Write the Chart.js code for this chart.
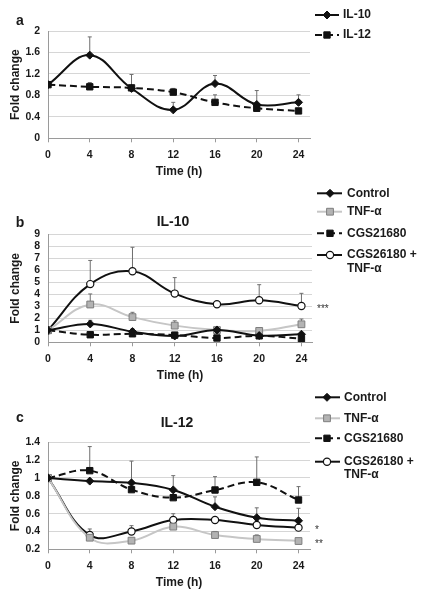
<!DOCTYPE html>
<html>
<head>
<meta charset="utf-8">
<script src="https://cdn.jsdelivr.net/npm/chart.js@4.4.0/dist/chart.umd.min.js"></script>
<style>
  body { margin: 0; background: #fff; }
  #lienzo { position: relative; width: 431px; height: 599px; overflow: hidden; background: #fff; }
  canvas { position: absolute; left: 0; }
</style>
</head>
<body>
<div id="lienzo">
  <canvas id="chartA" width="431" height="185" style="top:0px"></canvas>
  <canvas id="chartB" width="431" height="215" style="top:180px"></canvas>
  <canvas id="chartC" width="431" height="209" style="top:390px"></canvas>
</div>
<script>
// Eje X comun (horas)
const horas = [0, 4, 8, 12, 16, 20, 24];

// Ticks de cada panel
const ticksA = [0, 0.4, 0.8, 1.2, 1.6, 2];
const ticksB = [0, 1, 2, 3, 4, 5, 6, 7, 8, 9];
const ticksC = [0.2, 0.4, 0.6, 0.8, 1, 1.2, 1.4];

// Panel a
const il10A    = [1, 1.55, 0.93, 0.53, 1.02, 0.63, 0.67];
const il10AErr = [0, 0.34, 0.26, 0.14, 0.15, 0.26, 0.14];
const il12A    = [1, 0.96, 0.94, 0.86, 0.67, 0.56, 0.51];
const il12AErr = [0, 0.08, 0, 0.07, 0.14, 0, 0];

// Panel b (IL-10)
const controlB    = [1, 1.53, 0.89, 0.53, 1.03, 0.56, 0.67];
const controlBErr = [0, 0.30, 0.22, 0, 0, 0, 0];
const tnfB        = [1, 3.15, 2.1, 1.39, 1.02, 0.95, 1.5];
const tnfBErr     = [0, 0.88, 0.4, 0.4, 0, 0.28, 0.44];
const cgsB        = [1, 0.63, 0.71, 0.6, 0.36, 0.54, 0.3];
const cgsBErr     = [0, 0, 0, 0, 0, 0, 0];
const cgsTnfB     = [1, 4.85, 5.92, 4.06, 3.17, 3.5, 3.03];
const cgsTnfBErr  = [0, 1.97, 2.0, 1.33, 0, 1.3, 1.05];

// Panel c (IL-12)
const controlC    = [1, 0.965, 0.945, 0.866, 0.678, 0.555, 0.52];
const controlCErr = [0, 0, 0, 0.16, 0.11, 0.11, 0.14];
const tnfC        = [1, 0.33, 0.297, 0.454, 0.36, 0.316, 0.293];
const tnfCErr     = [0, 0, 0, 0, 0.04, 0.045, 0];
const cgsC        = [1, 1.082, 0.869, 0.779, 0.865, 0.951, 0.753];
const cgsCErr     = [0, 0.27, 0.32, 0, 0.15, 0.285, 0.15];
const cgsTnfC     = [1, 0.36, 0.40, 0.529, 0.529, 0.473, 0.443];
const cgsTnfCErr  = [0, 0.068, 0.065, 0.07, 0, 0.05, 0];

const leyendaA = ['IL-10', 'IL-12'];
const leyendaBC = ['Control', 'TNF-α', 'CGS21680', 'CGS26180 +\nTNF-α'];

const FUENTE = '"Liberation Sans", Arial, sans-serif';
const TEXTO = '#1a1a1a';

const estilos = {
    diamante: { borderColor: '#111', pointStyle: 'rectRot', pointRadius: 4, pointBackgroundColor: '#111', pointBorderColor: '#111', pointBorderWidth: 1 },
    cuadroGris: { borderColor: '#c6c6c6', pointStyle: 'rect', pointRadius: 4.8, pointBackgroundColor: '#b3b3b3', pointBorderColor: '#7e7e7e', pointBorderWidth: 1 },
    cuadroNegro: { borderColor: '#111', borderDash: [7, 4], pointStyle: 'rect', pointRadius: 4.5, pointBackgroundColor: '#111', pointBorderColor: '#111', pointBorderWidth: 1 },
    circulo: { borderColor: '#111', pointStyle: 'circle', pointRadius: 3.6, pointBackgroundColor: '#fff', pointBorderColor: '#111', pointBorderWidth: 1.2 }
};

function serie(etiqueta, valores, errores, estilo) {
    return Object.assign({
        label: etiqueta,
        data: horas.map((h, i) => ({ x: h, y: valores[i] })),
        errores: errores,
        tension: 0.4,
        borderWidth: 2,
        fill: false
    }, estilo);
}

// Barras de error (solo hacia arriba)
const barrasError = {
    id: 'barrasError',
    beforeDatasetsDraw(chart) {
        const ctx = chart.ctx;
        const ys = chart.scales.y;
        ctx.save();
        ctx.strokeStyle = '#6e6e6e';
        ctx.lineWidth = 1;
        chart.data.datasets.forEach((ds, i) => {
            const meta = chart.getDatasetMeta(i);
            (ds.errores || []).forEach((e, j) => {
                if (!e) return;
                const p = meta.data[j];
                const yTop = ys.getPixelForValue(ds.data[j].y + e);
                ctx.beginPath();
                ctx.moveTo(p.x, p.y);
                ctx.lineTo(p.x, yTop);
                ctx.moveTo(p.x - 2, yTop);
                ctx.lineTo(p.x + 2, yTop);
                ctx.stroke();
            });
        });
        ctx.restore();
    }
};

function pluginLeyenda(cfg) {
    return {
        id: 'leyendaManual',
        afterDraw(chart) {
            const ctx = chart.ctx;
            ctx.save();
            chart.data.datasets.forEach((ds, i) => {
                const y = cfg.filas[i];
                ctx.strokeStyle = ds.borderColor;
                ctx.lineWidth = 2;
                ctx.setLineDash(ds.borderDash || []);
                ctx.beginPath();
                ctx.moveTo(cfg.x0, y);
                ctx.lineTo(cfg.x1, y);
                ctx.stroke();
                ctx.setLineDash([]);
                ctx.fillStyle = ds.pointBackgroundColor;
                ctx.strokeStyle = ds.pointBorderColor;
                ctx.lineWidth = ds.pointBorderWidth;
                Chart.helpers.drawPoint(ctx, { pointStyle: ds.pointStyle, radius: ds.pointRadius, rotation: 0, borderWidth: ds.pointBorderWidth }, cfg.xm, y);
                ctx.fillStyle = TEXTO;
                ctx.font = 'bold 12px ' + FUENTE;
                ctx.textAlign = 'left';
                ctx.textBaseline = 'middle';
                cfg.textos[i].split('\n').forEach((linea, k) => {
                    ctx.fillText(linea, cfg.xt, y + k * 13.3);
                });
            });
            ctx.restore();
        }
    };
}

function pluginTextos(items, marcas) {
    return {
        id: 'textosExtra',
        afterDraw(chart) {
            const ctx = chart.ctx;
            ctx.save();
            ctx.fillStyle = TEXTO;
            ctx.textAlign = 'center';
            ctx.textBaseline = 'middle';
            items.forEach(it => {
                ctx.font = it.fuente + ' ' + FUENTE;
                ctx.fillText(it.t, it.x, it.y);
            });
            // asteriscos junto al ultimo punto de la serie
            ctx.textAlign = 'left';
            ctx.font = '10px ' + FUENTE;
            ctx.fillStyle = '#333';
            (marcas || []).forEach(m => {
                const ds = chart.data.datasets[m.serie];
                const ultimo = ds.data[ds.data.length - 1].y;
                ctx.fillText(m.texto, chart.chartArea.right + 5, chart.scales.y.getPixelForValue(ultimo) + 3);
            });
            ctx.restore();
        }
    };
}

function crearPanel(idCanvas, series, op) {
    const ctx = document.getElementById(idCanvas).getContext('2d');
    return new Chart(ctx, {
        type: 'line',
        data: { datasets: series },
        options: {
            responsive: false,
            animation: false,
            events: [],
            devicePixelRatio: 1,
            layout: { padding: { top: op.arriba, right: op.derecha, bottom: op.abajo, left: 0 } },
            scales: {
                x: {
                    type: 'linear',
                    min: 0,
                    max: op.xMax,
                    afterFit: s => { s.height = 41; },
                    afterBuildTicks: s => { s.ticks = horas.map(v => ({ value: v })); },
                    grid: { drawOnChartArea: false, drawTicks: true, tickLength: 4, color: '#9a9a9a' },
                    border: { color: '#9a9a9a', width: 1 },
                    ticks: { autoSkip: false, maxRotation: 0, padding: 7, color: TEXTO, font: { family: FUENTE, size: 10.5, weight: 'bold' }, callback: v => String(v) },
                    title: { display: true, text: 'Time (h)', color: TEXTO, padding: { top: 0, bottom: 0 }, font: { family: FUENTE, size: 12, weight: 'bold' } }
                },
                y: {
                    min: op.ticks[0],
                    max: op.ticks[op.ticks.length - 1],
                    afterFit: s => { s.width = 48; },
                    afterBuildTicks: s => { s.ticks = op.ticks.map(v => ({ value: v })); },
                    grid: { color: '#d6d6d6', drawTicks: false },
                    border: { color: '#9a9a9a', width: 1 },
                    ticks: { autoSkip: false, padding: 8, color: TEXTO, font: { family: FUENTE, size: 10.5, weight: 'bold' }, callback: v => String(v) },
                    title: { display: true, text: 'Fold change', color: TEXTO, padding: { top: 8, bottom: 0 }, font: { family: FUENTE, size: 12, weight: 'bold' } }
                }
            },
            plugins: { legend: { display: false }, tooltip: { enabled: false } }
        },
        plugins: [barrasError, pluginLeyenda(op.leyenda), pluginTextos(op.textos, op.marcas)]
    });
}

// Panel a
crearPanel('chartA', [
    serie('IL-10', il10A, il10AErr, estilos.diamante),
    serie('IL-12', il12A, il12AErr, estilos.cuadroNegro)
], {
    arriba: 31, abajo: 5.7, derecha: 121, xMax: 25.1, ticks: ticksA,
    leyenda: { x0: 315, x1: 339, xm: 327, xt: 343, filas: [15, 35], textos: leyendaA },
    textos: [{ t: 'a', x: 20, y: 21, fuente: 'bold 14px' }]
});

// Panel b
crearPanel('chartB', [
    serie('Control', controlB, controlBErr, estilos.diamante),
    serie('TNF-α', tnfB, tnfBErr, estilos.cuadroGris),
    serie('CGS21680', cgsB, cgsBErr, estilos.cuadroNegro),
    serie('CGS26180 + TNF-α', cgsTnfB, cgsTnfBErr, estilos.circulo)
], {
    arriba: 54.3, abajo: 11.7, derecha: 119, xMax: 25.0, ticks: ticksB,
    leyenda: { x0: 317, x1: 342, xm: 330, xt: 347, filas: [13.3, 31.7, 53.3, 75], textos: leyendaBC },
    textos: [{ t: 'b', x: 20, y: 43, fuente: 'bold 14px' }, { t: 'IL-10', x: 173, y: 42, fuente: 'bold 14px' }],
    marcas: [{ serie: 3, texto: '***' }]
});

// Panel c
crearPanel('chartC', [
    serie('Control', controlC, controlCErr, estilos.diamante),
    serie('TNF-α', tnfC, tnfCErr, estilos.cuadroGris),
    serie('CGS21680', cgsC, cgsCErr, estilos.cuadroNegro),
    serie('CGS26180 + TNF-α', cgsTnfC, cgsTnfCErr, estilos.circulo)
], {
    arriba: 52.3, abajo: 8.7, derecha: 121, xMax: 25.1, ticks: ticksC,
    leyenda: { x0: 315, x1: 340, xm: 327, xt: 344, filas: [7.3, 28.3, 48.3, 71.7], textos: leyendaBC },
    textos: [{ t: 'c', x: 20, y: 28, fuente: 'bold 14px' }, { t: 'IL-12', x: 177, y: 33, fuente: 'bold 14px' }],
    marcas: [{ serie: 3, texto: '*' }, { serie: 1, texto: '**' }]
});
</script>
</body>
</html>
